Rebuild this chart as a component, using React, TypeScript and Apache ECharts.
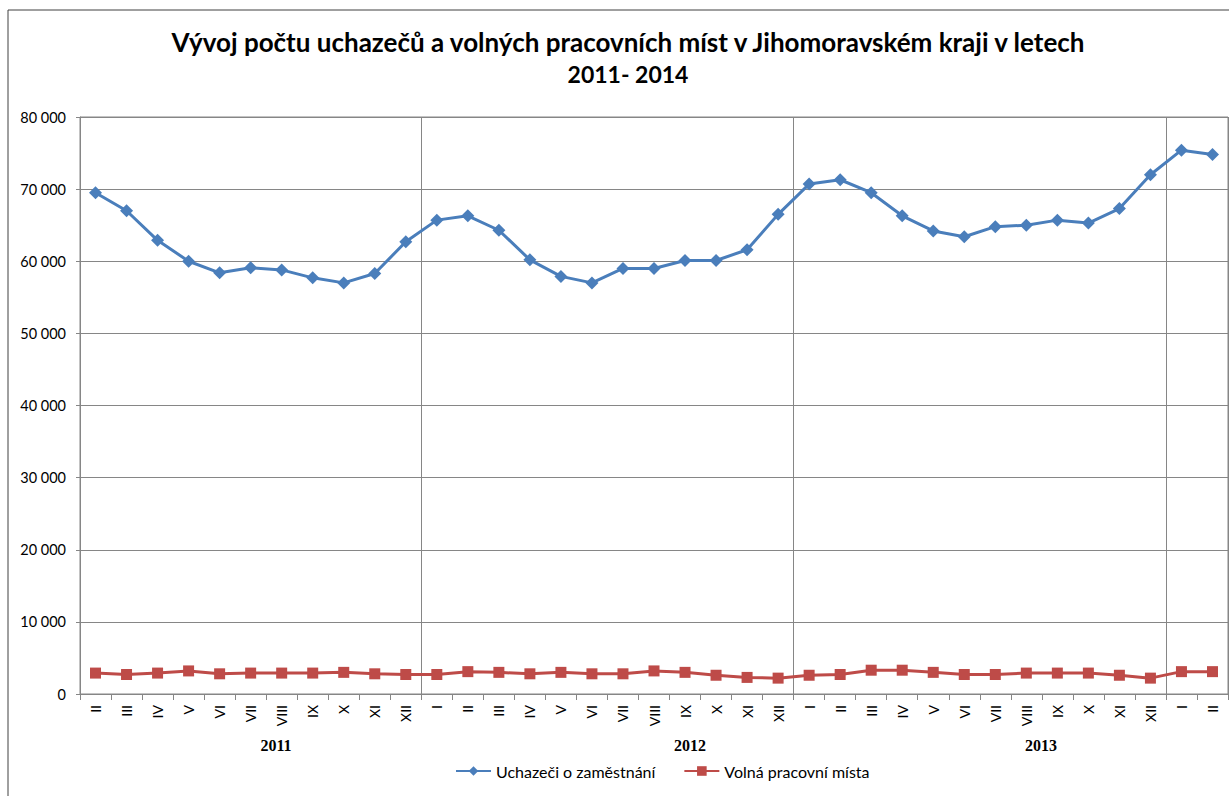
import React, { useEffect, useRef } from "react";
import * as echarts from "echarts";

const months2011 = ["II", "III", "IV", "V", "VI", "VII", "VIII", "IX", "X", "XI", "XII"];
const months2012 = ["I", "II", "III", "IV", "V", "VI", "VII", "VIII", "IX", "X", "XI", "XII"];
const months2013 = ["I", "II", "III", "IV", "V", "VI", "VII", "VIII", "IX", "X", "XI", "XII"];
const months2014 = ["I", "II"];
const categories = [...months2011, ...months2012, ...months2013, ...months2014];

const yearLabels = ["2011", "2012", "2013"];

const uchazeci = [
  69500, 67000, 62900, 60000, 58400, 59100, 58800, 57700, 57000, 58300, 62700,
  65700, 66300, 64300, 60200, 57900, 57000, 59000, 59000, 60100, 60100, 61600, 66500,
  70700, 71300, 69500, 66300, 64200, 63400, 64800, 65000, 65700, 65300, 67300, 72000,
  75400, 74800,
];

const volnaMista = [
  2900, 2700, 2900, 3200, 2800, 2900, 2900, 2900, 3000, 2800, 2700,
  2700, 3100, 3000, 2800, 3000, 2800, 2800, 3200, 3000, 2600, 2300, 2200,
  2600, 2700, 3300, 3300, 3000, 2700, 2700, 2900, 2900, 2900, 2600, 2200,
  3100, 3100,
];

const yearBoundaries = [
  months2011.length,
  months2011.length + months2012.length,
  months2011.length + months2012.length + months2013.length,
];

const fmt = (v: number) => {
  const s = String(Math.round(v));
  return s.replace(/\B(?=(\d{3})+(?!\d))/g, " ");
};

export default function App() {
  const ref = useRef<HTMLDivElement>(null);
  useEffect(() => {
    document.body.style.margin = "0";
    if (!ref.current) return;
    const chart = echarts.init(ref.current, null, { renderer: "svg" });
    const grid = { left: 80, right: 1, top: 117, bottom: 102 };
    chart.setOption({
      animation: false,
      backgroundColor: "#ffffff",
      title: {
        text:
          "{a|Vývoj počtu uchazečů a volných pracovních míst v Jihomoravském kraji v letech}\n{b|2011- 2014}",
        left: 623,
        top: 20,
        textAlign: "center",
        textStyle: {
          fontFamily: "Lato",
          fontWeight: "bold",
          color: "#000000",
          rich: {
            a: { fontFamily: "Lato", fontWeight: "bold", fontSize: 26, lineHeight: 33, color: "#000000" },
            b: { fontFamily: "Lato", fontWeight: "bold", fontSize: 23, lineHeight: 31, color: "#000000" },
          },
        },
      },
      grid: { ...grid, show: true, borderColor: "#868686", borderWidth: 1 },
      legend: {
        bottom: 12,
        left: 450,
        itemWidth: 35,
        itemHeight: 12,
        itemGap: 28,
        textStyle: { fontFamily: "Lato", fontSize: 16, color: "#000000" },
        data: ["Uchazeči o zaměstnání", "Volná pracovní místa"],
      },
      xAxis: {
        type: "category",
        data: categories,
        boundaryGap: true,
        axisLine: { lineStyle: { color: "#868686" } },
        axisTick: { show: true, length: 6, interval: 0, lineStyle: { color: "#868686" } },
        axisLabel: {
          interval: 0,
          rotate: 90,
          margin: 11,
          fontFamily: "Lato",
          fontSize: 14,
          color: "#000000",
        },
        splitLine: {
          show: true,
          interval: (index: number) => yearBoundaries.includes(index),
          lineStyle: { color: "#868686", width: 1 },
        },
      },
      yAxis: {
        type: "value",
        min: 0,
        max: 80000,
        interval: 10000,
        axisLine: { show: true, lineStyle: { color: "#868686" } },
        axisTick: { show: true, length: 4, lineStyle: { color: "#868686" } },
        axisLabel: {
          margin: 14,
          fontFamily: "Lato",
          fontSize: 14.5,
          color: "#000000",
          formatter: (v: number) => fmt(v),
        },
        splitLine: { show: true, lineStyle: { color: "#868686", width: 1 } },
      },
      graphic: [
        {
          type: "rect",
          shape: { x: 8, y: 10, width: 1400, height: 1000 },
          style: { fill: "none", stroke: "#404040", lineWidth: 1 },
          silent: true,
        },
        ...yearLabels.map((y, i) => ({
          type: "text",
          x: [276, 690, 1041][i],
          y: 745,
          style: {
            text: y,
            textAlign: "center",
            textVerticalAlign: "middle",
            font: "bold 16px 'Liberation Serif'",
            fill: "#000000",
          },
        })),
      ],
      series: [
        {
          name: "Uchazeči o zaměstnání",
          type: "line",
          data: uchazeci,
          symbol: "diamond",
          symbolSize: 13,
          lineStyle: { color: "#4A7EBB", width: 3 },
          itemStyle: { color: "#4A7EBB" },
        },
        {
          name: "Volná pracovní místa",
          type: "line",
          data: volnaMista,
          symbol: "rect",
          symbolSize: 11,
          lineStyle: { color: "#BE4B48", width: 3 },
          itemStyle: { color: "#BE4B48" },
        },
      ],
    });
    return () => chart.dispose();
  }, []);
  return <div ref={ref} style={{ width: 1229, height: 796 }} />;
}
